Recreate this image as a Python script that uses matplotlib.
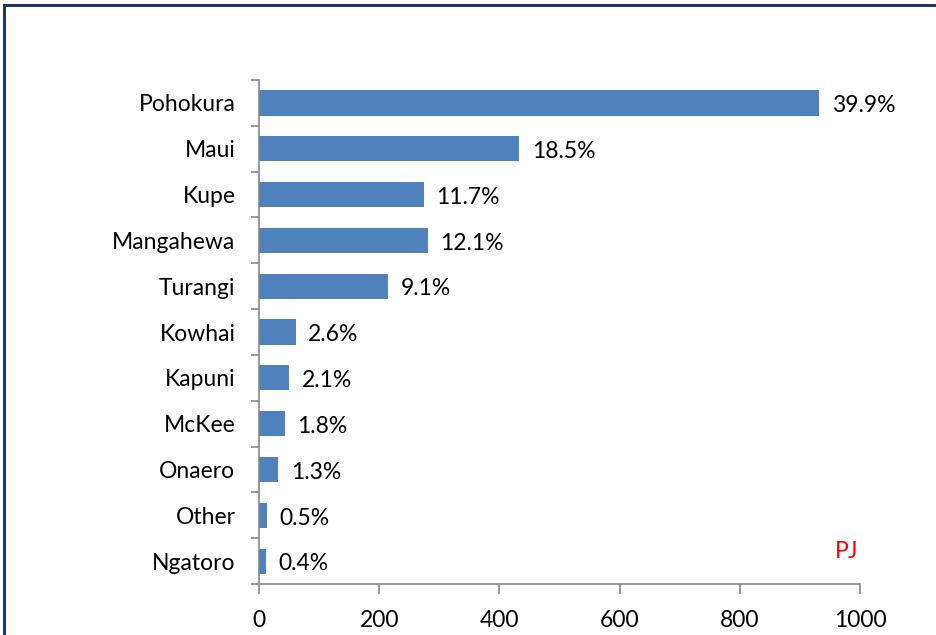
import matplotlib.pyplot as plt
from matplotlib.lines import Line2D

# gas fields, production in PJ and share of total
fields = ['Pohokura', 'Maui', 'Kupe', 'Mangahewa', 'Turangi', 'Kowhai',
          'Kapuni', 'McKee', 'Onaero', 'Other', 'Ngatoro']
pj = [932, 433, 274, 281, 215, 61, 50, 43, 32, 13, 11]
shares = ['39.9%', '18.5%', '11.7%', '12.1%', '9.1%', '2.6%',
          '2.1%', '1.8%', '1.3%', '0.5%', '0.4%']
xticks = [0, 200, 400, 600, 800, 1000]

plt.rcParams['font.family'] = ['Lato', 'DejaVu Sans']
fs = 16.5

fig = plt.figure(figsize=(9.36, 6.35), dpi=100)
ax = fig.add_axes([0.2767, 0.0803, 0.6421, 0.7937])

ypos = list(range(len(fields)))
ax.barh(ypos, pj, height=0.55, color='#4f81bd', zorder=2)

for y, v, s in zip(ypos, pj, shares):
    ax.annotate(s, (v, y), xytext=(9, -2), textcoords='offset points',
                ha='left', va='center', fontsize=fs)

ax.set_xlim(0, 1000)
ax.set_ylim(len(fields) - 0.5, -0.5)
ax.set_xticks(xticks)
ax.set_xticklabels([str(t) for t in xticks], fontsize=fs)
ax.set_yticks(ypos)
ax.set_yticklabels(fields, fontsize=fs)
ax.tick_params(axis='y', length=0, pad=17)
ax.tick_params(axis='x', length=7, color='#868686', width=1.2, pad=12)

# y-axis ticks sit between categories
ax.set_yticks([i - 0.5 for i in range(len(fields) + 1)], minor=True)
ax.tick_params(axis='y', which='minor', length=6, color='#868686', width=1.2)

for side in ['top', 'right']:
    ax.spines[side].set_visible(False)
for side in ['left', 'bottom']:
    ax.spines[side].set_color('#868686')
    ax.spines[side].set_linewidth(1.2)

ax.text(0.977, 0.065, 'PJ', transform=ax.transAxes, color='red',
        fontsize=fs, ha='center', va='center')

# navy frame (top and left edges visible)
fx, fy = 4 / 936, 1 - 5 / 635
fig.add_artist(Line2D([fx, 1], [fy, fy], transform=fig.transFigure,
                      color='#1f3864', linewidth=2.2))
fig.add_artist(Line2D([fx, fx], [0, fy], transform=fig.transFigure,
                      color='#1f3864', linewidth=2.2))

fig.savefig('out.png', dpi=100)
